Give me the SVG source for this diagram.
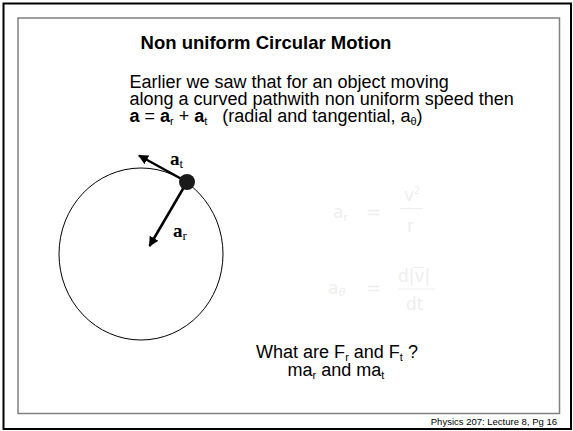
<svg xmlns="http://www.w3.org/2000/svg" width="573" height="431" viewBox="0 0 573 431">
<defs>
<style>
.sans{font-family:"Liberation Sans",Arial,sans-serif;fill:#000}
.serif{font-family:"Liberation Serif","Times New Roman",serif;fill:#000;font-weight:bold}
.faint{font-family:"DejaVu Sans",sans-serif;fill:#eeeeee}
.vec{stroke:#000;stroke-width:2.5;fill:none}
</style>
<marker id="ah" viewBox="0 0 10 10" refX="9" refY="5" markerWidth="4" markerHeight="4" orient="auto" markerUnits="strokeWidth">
<path d="M0,0 L10,5 L0,10 Z" fill="#000"/>
</marker>
</defs>
<rect x="0" y="0" width="573" height="431" fill="#fff"/>
<rect x="3.5" y="3.5" width="567.5" height="425.5" fill="none" stroke="#000" stroke-width="2"/>
<rect x="18" y="18" width="541.5" height="395.5" fill="none" stroke="#808080" stroke-width="1.5"/>
<text class="sans" x="266" y="48.5" font-size="18.5" font-weight="bold" text-anchor="middle">Non uniform Circular Motion</text>
<text class="sans" x="129.5" y="88" font-size="18">Earlier we saw that for an object moving</text>
<text class="sans" x="129.5" y="105" font-size="18">along a curved pathwith non uniform speed then</text>
<text class="sans" x="129.5" y="122" font-size="18" xml:space="preserve"><tspan font-weight="bold">a</tspan> = <tspan font-weight="bold">a</tspan><tspan font-size="11" dy="3">r</tspan><tspan dy="-3"> + </tspan><tspan font-weight="bold">a</tspan><tspan font-size="11" dy="3">t</tspan><tspan dy="-3">   (radial and tangential, a</tspan><tspan font-size="11" dy="3">θ</tspan><tspan dy="-3">)</tspan></text>
<g id="faint-eq">
<text class="faint" x="333" y="218" font-size="17">a<tspan font-size="11" dy="3">r</tspan></text>
<text class="faint" x="366" y="218" font-size="18">=</text>
<text class="faint" x="404" y="201" font-size="17">v<tspan font-size="10" dy="-7">2</tspan></text>
<line x1="400" y1="208.5" x2="423" y2="208.5" stroke="#eeeeee" stroke-width="1"/>
<text class="faint" x="407" y="232" font-size="17">r</text>
<text class="faint" x="328" y="294" font-size="17">a<tspan font-size="11" font-style="italic" dy="2">θ</tspan></text>
<text class="faint" x="366" y="294" font-size="18">=</text>
<text class="faint" x="398" y="282" font-size="17">d|v|</text>
<line x1="413" y1="267.5" x2="424" y2="267.5" stroke="#eeeeee" stroke-width="1"/>
<line x1="398" y1="289" x2="435" y2="289" stroke="#eeeeee" stroke-width="1"/>
<text class="faint" x="406" y="310" font-size="17">dt</text>
</g>
<g id="circle">
<ellipse cx="141" cy="254" rx="82" ry="86" fill="none" stroke="#000" stroke-width="1"/>
</g>
<g id="connectors">
<line class="vec" x1="187" y1="182" x2="139" y2="155.5" marker-end="url(#ah)"/>
<line class="vec" x1="187" y1="182" x2="149.5" y2="246" marker-end="url(#ah)"/>
</g>
<g id="dot">
<circle cx="187" cy="182" r="8" fill="#1a1a1a"/>
</g>
<g id="label-at">
<text class="serif" x="170" y="165" font-size="19">a<tspan font-size="13" font-weight="normal" dy="3">t</tspan></text>
</g>
<g id="label-ar">
<text class="serif" x="173" y="237" font-size="19">a<tspan font-size="13" font-weight="normal" dy="3">r</tspan></text>
</g>
<text class="sans" x="337" y="358" font-size="18" text-anchor="middle">What are F<tspan font-size="11" dy="3">r</tspan><tspan dy="-3"> and F</tspan><tspan font-size="11" dy="3">t</tspan><tspan dy="-3"> ?</tspan></text>
<text class="sans" x="336" y="376" font-size="18" text-anchor="middle">ma<tspan font-size="11" dy="3">r</tspan><tspan dy="-3"> and ma</tspan><tspan font-size="11" dy="3">t</tspan></text>
<text class="sans" x="557" y="425" font-size="9.5" text-anchor="end">Physics 207: Lecture 8, Pg 16</text>
</svg>
